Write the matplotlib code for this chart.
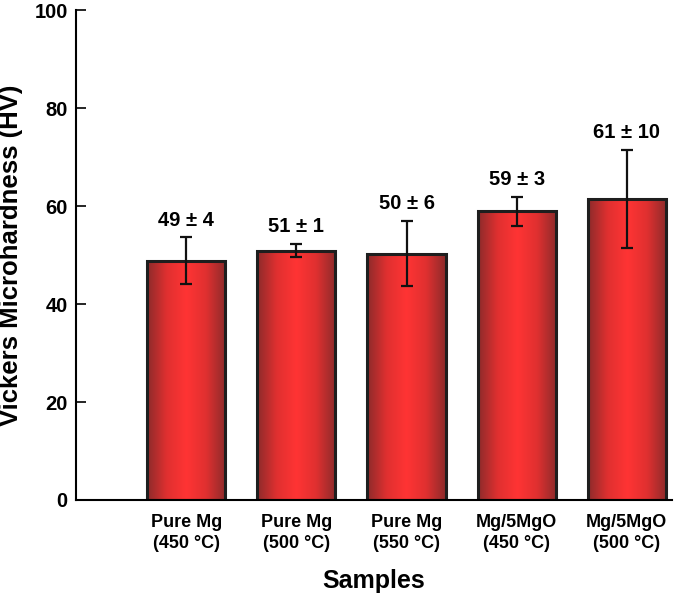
import matplotlib
matplotlib.use('Agg')
import matplotlib.pyplot as plt
from matplotlib.colors import LinearSegmentedColormap
import numpy as np

# data
samples = ['Pure Mg\n(450 °C)', 'Pure Mg\n(500 °C)', 'Pure Mg\n(550 °C)',
           'Mg/5MgO\n(450 °C)', 'Mg/5MgO\n(500 °C)']
hardness = [48.8, 50.9, 50.3, 58.9, 61.5]
errors = [4.8, 1.4, 6.6, 2.9, 10.0]
value_labels = ['49 ± 4', '51 ± 1', '50 ± 6', '59 ± 3', '61 ± 10']

plt.rcParams['font.family'] = ['Liberation Sans', 'DejaVu Sans']
plt.rcParams['font.weight'] = 'bold'

fig = plt.figure(figsize=(6.85, 5.95), dpi=100)
ax = fig.add_axes([0.111, 0.1597, 0.87, 0.8233])

x = np.arange(len(samples))
width = 0.71
cmap = LinearSegmentedColormap.from_list('redbar', ['#8c2b2b', '#e03030', '#ff3434', '#e03030', '#8c2b2b'])
grad = np.linspace(0, 1, 256).reshape(1, -1)

for xi, h in zip(x, hardness):
    ax.imshow(grad, cmap=cmap, aspect='auto', extent=[xi - width / 2, xi + width / 2, 0, h],
              zorder=1, interpolation='bicubic')

ax.bar(x, hardness, width=width, facecolor='none', edgecolor='#1e1e1e', linewidth=2.2, zorder=2)
ax.errorbar(x, hardness, yerr=errors, fmt='none', ecolor='#111111', elinewidth=1.6,
            capsize=4.5, capthick=1.6, zorder=3)

for xi, h, e, lab in zip(x, hardness, errors, value_labels):
    ax.text(xi, h + e + 1.6, lab, ha='center', va='bottom', fontsize=14.5, fontweight='bold')

ax.set_xlim(-1.0, 4.41)
ax.set_ylim(0, 100)
ax.set_yticks([0, 20, 40, 60, 80, 100])
ax.set_xticks(x)
ax.set_xticklabels(samples, fontsize=13, fontweight='bold', linespacing=1.35)
ax.tick_params(axis='x', length=0, pad=10)
ax.tick_params(axis='y', direction='in', length=7, width=1.2, labelsize=14.5, pad=6)

ax.spines['top'].set_visible(False)
ax.spines['right'].set_visible(False)
for s in ['left', 'bottom']:
    ax.spines[s].set_linewidth(1.5)

ax.set_ylabel('Vickers Microhardness (HV)', fontsize=18.5, fontweight='bold', labelpad=8)
ax.set_xlabel('Samples', fontsize=18, fontweight='bold', labelpad=12)

fig.savefig('out.png', dpi=100)
